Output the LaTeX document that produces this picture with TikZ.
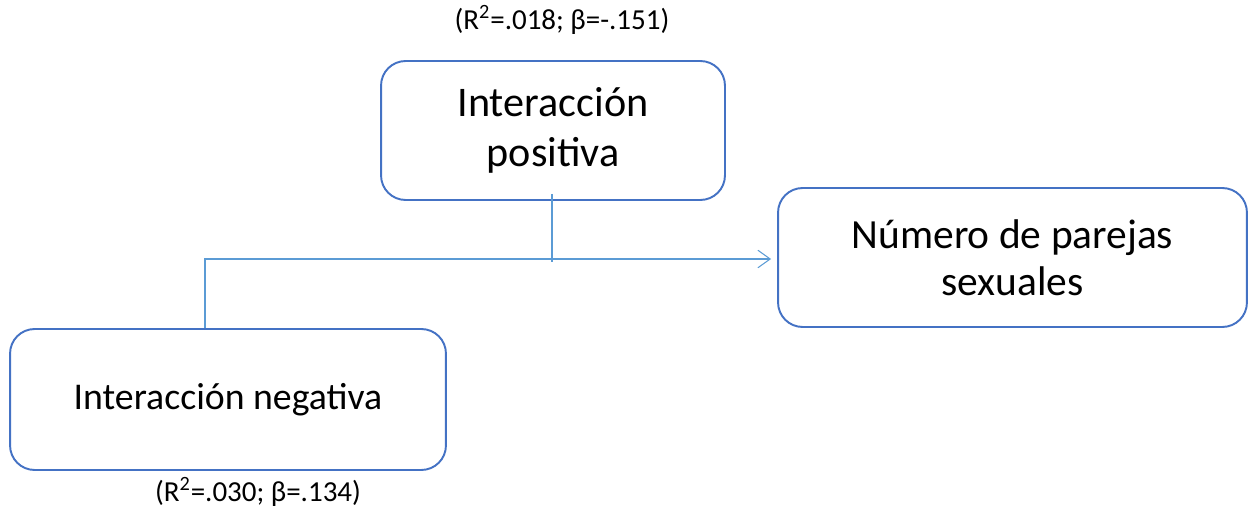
\documentclass[tikz,border=0pt]{standalone}
\usepackage{fontspec}
\setmainfont{Carlito}
\usetikzlibrary{arrows.meta, positioning, calc}
\definecolor{boxblue}{HTML}{4472C4}
\definecolor{lineblue}{HTML}{5B9BD5}

\tikzset{
    varbox/.style={draw=boxblue, line width=1.1pt, rounded corners=14pt, align=center, inner sep=0pt},
    link/.style={draw=lineblue, line width=0.6pt},
    stat/.style={font=\fontsize{16.5}{19}\selectfont}
}

\begin{document}
\begin{tikzpicture}[x=0.02cm, y=-0.02cm]
    \useasboundingbox (0,0) rectangle (1249,510);

    \node[varbox, minimum width=6.88cm, minimum height=2.78cm, font=\fontsize{24}{28.5}\selectfont] (pos) at (553,130.5) {Interacción\\positiva};
    \node[varbox, minimum width=9.38cm, minimum height=2.78cm, font=\fontsize{23.6}{27}\selectfont] (num) at (1012.5,257.5) {Número de parejas\\sexuales};
    \node[varbox, minimum width=8.72cm, minimum height=2.82cm, font=\fontsize{21.5}{25}\selectfont] (neg) at (228,399.5) {Interacción negativa};

    \coordinate (join) at (205,259);
    \coordinate (tee) at (552,262);

    \draw[link] ([yshift=0.14cm]tee |- pos.south) -- (tee);
    \draw[link, -{Straight Barb[length=7pt, width=10pt]}, shorten >=0.12cm]
        (join |- neg.north) -- (join) -- (join -| num.west);

    \node[stat] (posstat) at (562,20) {(R\textsuperscript{2}=.018; β=-.151)};
    \node[stat] (negstat) at (258,492) {(R\textsuperscript{2}=.030; β=.134)};
\end{tikzpicture}
\end{document}
